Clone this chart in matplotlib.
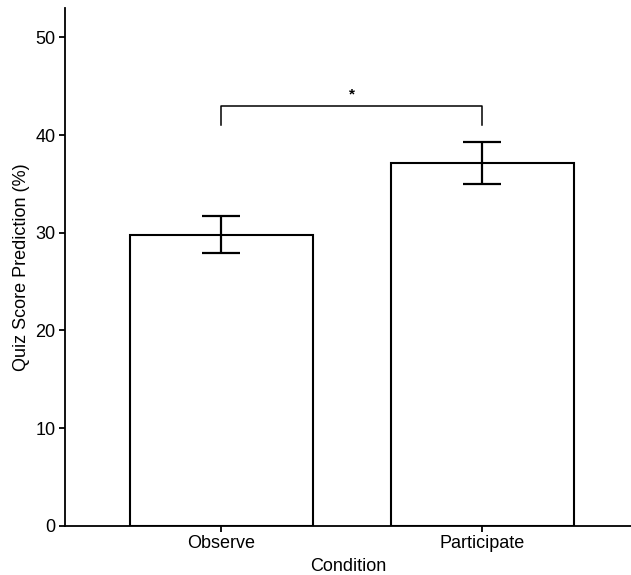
import matplotlib.pyplot as plt
import numpy as np

plt.rcParams['font.family'] = ['Liberation Sans', 'DejaVu Sans']

# data
conditions = ['Observe', 'Participate']
means = [29.8, 37.1]
err_low = [1.9, 2.1]
err_high = [1.9, 2.2]
y_ticks = [0, 10, 20, 30, 40, 50]

# significance bracket
bracket_y = 43.0
bracket_leg = 41.0
star_y = 44.2

fig = plt.figure(figsize=(6.31, 5.75), dpi=100)
ax = fig.add_axes([0.103, 0.0857, 0.897, 0.9003])

x = np.arange(len(conditions))
ax.bar(x, means, width=0.7, color='white', edgecolor='black', linewidth=1.5, zorder=2)
ax.errorbar(x, means, yerr=[err_low, err_high], fmt='none', ecolor='black',
            elinewidth=1.6, capsize=14, capthick=1.6, zorder=3)

# bracket with star
ax.plot([x[0], x[0], x[1], x[1]], [bracket_leg, bracket_y, bracket_y, bracket_leg],
        color='black', linewidth=1.1)
ax.text((x[0] + x[1]) / 2, star_y, '*', ha='center', va='center',
        fontsize=11, fontweight='bold')

ax.set_xlim(-0.6, 1.57)
ax.set_ylim(0, 53)
ax.set_xticks(x)
ax.set_xticklabels(conditions)
ax.set_yticks(y_ticks)

ax.spines['top'].set_visible(False)
ax.spines['right'].set_visible(False)
ax.spines['left'].set_linewidth(1.3)
ax.spines['bottom'].set_linewidth(1.3)
ax.tick_params(axis='both', labelsize=13, length=4, width=1.3, pad=3)

ax.set_xlabel('Condition', fontsize=13, labelpad=4)
ax.set_ylabel('Quiz Score Prediction (%)', fontsize=13, labelpad=4)

fig.savefig('out.png', dpi=100)
